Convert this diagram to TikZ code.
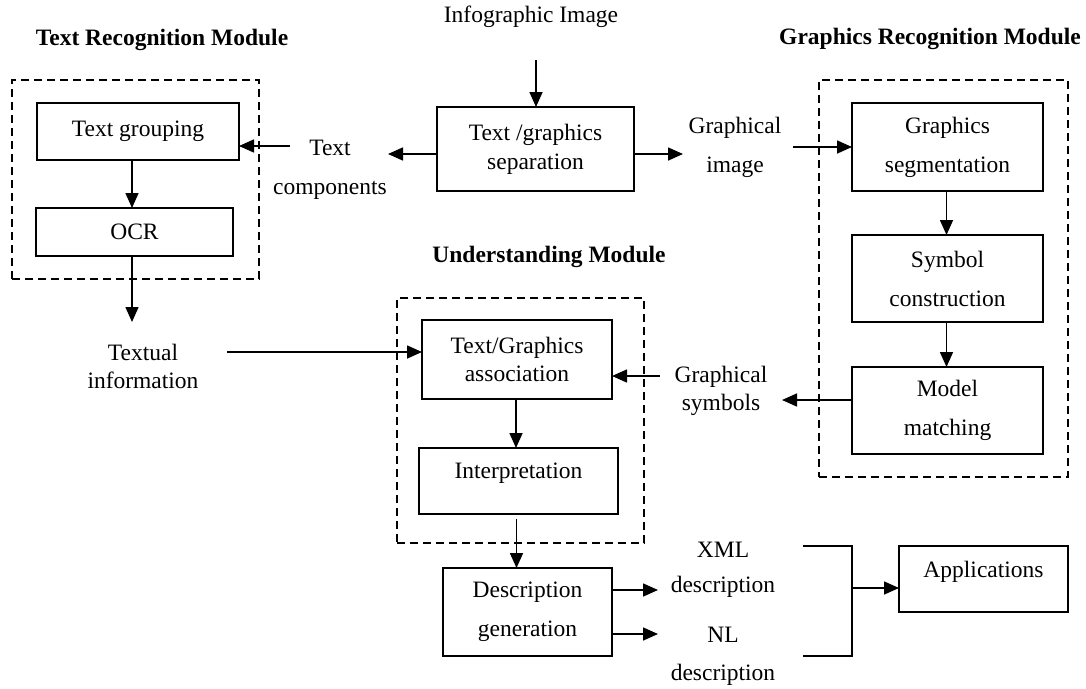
\documentclass[tikz,border=0pt]{standalone}
\usepackage{fontspec}
\setmainfont{Liberation Serif}
\usetikzlibrary{arrows.meta}
\begin{document}
\begin{tikzpicture}[x=1pt,y=-1pt,
  every node/.style={inner sep=0pt, outer sep=0pt, align=center},
  lblloose/.style={font=\fontsize{23.5}{39}\selectfont},
  lbltight/.style={font=\fontsize{23.5}{28}\selectfont},
  ttl/.style={font=\fontsize{23.5}{28}\selectfont\bfseries},
  box/.style={draw, line width=1.6pt, font=\fontsize{23.5}{39}\selectfont},
  boxtight/.style={box, font=\fontsize{23.5}{29}\selectfont},
  dbox/.style={draw, line width=1.4pt, dash pattern=on 8pt off 5pt},
  conn/.style={line width=1.6pt},
  arr/.style={line width=1.6pt, -{Triangle[length=15pt,width=13pt]}}
]
\useasboundingbox (0,0) rectangle (1086,688);

% module frames
\node[dbox, minimum width=247, minimum height=199] (trm) at (135.5,179.5) {};
\node[dbox, minimum width=249, minimum height=397] (grm) at (943.5,278.5) {};
\node[dbox, minimum width=247, minimum height=245] (um) at (520.5,420.5) {};

% titles
\node[ttl] (t1) at (162,40) {Text Recognition Module};
\node[ttl] (t2) at (930,39) {Graphics Recognition Module};
\node[ttl] (t3) at (549,257) {Understanding Module};

% boxes
\node[boxtight, minimum width=197, minimum height=84] (sep) at (535.5,149) {Text /graphics\\separation};
\node[box, minimum width=202, minimum height=57] (tg) at (138,131.5) {Text grouping};
\node[box, minimum width=197, minimum height=48] (ocr) at (134.5,232) {OCR};
\node[box, minimum width=191, minimum height=88] (seg) at (947.5,147) {Graphics\\segmentation};
\node[box, minimum width=191, minimum height=87] (sym) at (947.5,278.5) {Symbol\\construction};
\node[box, minimum width=191, minimum height=87] (model) at (947.5,410.5) {Model\\matching};
\node[boxtight, font=\fontsize{23.5}{28}\selectfont, minimum width=190, minimum height=79] (assoc) at (517,359.5) {Text/Graphics\\association};
\node[box, minimum width=199, minimum height=66, text height=16pt, text depth=21pt] (interp) at (518.5,481) {Interpretation};
\node[box, minimum width=169, minimum height=88] (desc) at (527.5,612) {Description\\generation};
\node[box, minimum width=169, minimum height=66, text height=16pt, text depth=19pt] (apps) at (983.5,579) {Applications};

% labels
\node[lbltight] (infog) at (531,17) {Infographic Image};
\node[lblloose] (tcomp) at (330,169.5) {Text\\components};
\node[lblloose] (gimg) at (735,147.5) {Graphical\\image};
\node[lbltight] (gsym) at (721,391) {Graphical\\symbols};
\node[lbltight] (textual) at (143,366) {Textual\\information};
\node[font=\fontsize{23.5}{35}\selectfont] (xml) at (723,569.5) {XML\\description};
\node[font=\fontsize{23.5}{38}\selectfont] (nl) at (723,656) {NL\\description};

% connector end points
\coordinate (infoA) at (536,60);
\coordinate (tcTip) at (388,154);
\coordinate (tcA) at (290,146);
\coordinate (txTip) at (132,322);
\coordinate (txA) at (227,352);
\coordinate (giTip) at (683,154);
\coordinate (giA) at (793,147);
\coordinate (gsTip) at (782,400);
\coordinate (gsA) at (660,376);
\coordinate (xmlTip) at (658,590);
\coordinate (nlTip) at (658,634);
\coordinate (brT) at (803,546);
\coordinate (brB) at (803,656);
\coordinate (brM) at (852,588);

% connectors
\draw[arr] (infoA) -- (infoA |- sep.north);
\draw[arr] (sep.west |- tcTip) -- (tcTip);
\draw[arr] (tcA) -- (tcA -| tg.east);
\draw[arr] ([xshift=-6pt]tg.south) -- ([xshift=-6pt]tg.south |- ocr.north);
\draw[arr] (ocr.south -| txTip) -- (txTip);
\draw[arr] (txA) -- (txA -| assoc.west);
\draw[arr] (sep.east |- giTip) -- (giTip);
\draw[arr] (giA) -- (giA -| seg.west);
\draw[arr] ([xshift=-1pt]seg.south) -- ([xshift=-1pt]seg.south |- sym.north);
\draw[arr] ([xshift=-1pt]sym.south) -- ([xshift=-1pt]sym.south |- model.north);
\draw[arr] (model.west |- gsTip) -- (gsTip);
\draw[arr] (gsA) -- (gsA -| assoc.east);
\draw[arr] ([xshift=-1pt]assoc.south) -- ([xshift=-1pt]assoc.south |- interp.north);
\draw[arr] ([xshift=-2pt,yshift=-5pt]interp.south) -- ([xshift=-2pt]interp.south |- desc.north);
\draw[arr] (desc.east |- xmlTip) -- (xmlTip);
\draw[arr] (desc.east |- nlTip) -- (nlTip);
\draw[conn] (brT) -- (brT -| brM) -- (brB -| brM) -- (brB);
\draw[arr] (brM) -- (brM -| apps.west);
\end{tikzpicture}
\end{document}
